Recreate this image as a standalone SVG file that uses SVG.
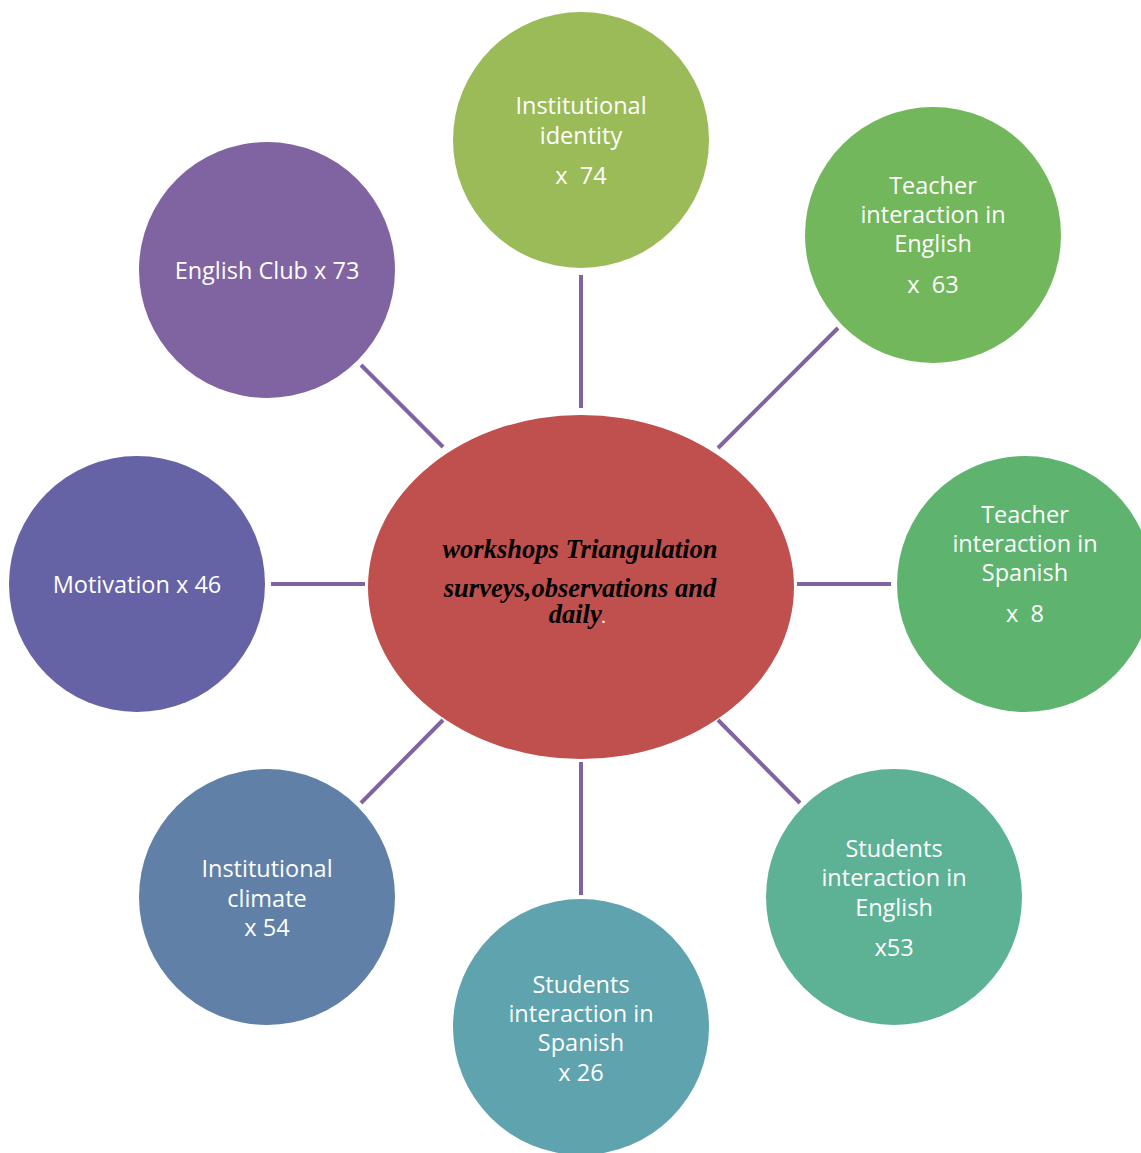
<svg xmlns="http://www.w3.org/2000/svg" width="1141" height="1153" viewBox="0 0 1141 1153">
<style>
.lbl{font-family:"Open Sans","Noto Sans",sans-serif;font-size:23.5px;fill:#ffffff;text-anchor:middle;white-space:pre}
.ctr{font-family:"Liberation Serif",serif;font-size:26.5px;font-weight:bold;font-style:italic;fill:#000000;text-anchor:middle}
.con line{stroke:#8064A2;stroke-width:4}
</style>
<rect width="1141" height="1153" fill="#ffffff"/>
<g class="con" id="connectors">
<line x1="581" y1="275" x2="581" y2="408"/>
<line x1="838" y1="328" x2="718" y2="448"/>
<line x1="797" y1="584" x2="891" y2="584"/>
<line x1="718" y1="720" x2="800" y2="803"/>
<line x1="581" y1="762" x2="581" y2="895"/>
<line x1="443" y1="720" x2="361" y2="803"/>
<line x1="271" y1="584" x2="365" y2="584"/>
<line x1="361" y1="365" x2="443" y2="447"/>
</g>
<g id="center">
<ellipse cx="581" cy="587" rx="213" ry="172" fill="#C0504D"/>
<text class="ctr" x="580" y="558">workshops Triangulation</text>
<text class="ctr" x="580" y="597">surveys,observations and</text>
<text class="ctr" x="577" y="623">daily<tspan fill="#ffffff" font-size="14" font-style="normal">.</tspan></text>
</g>
<g id="institutional-identity">
<circle cx="581" cy="140" r="128" fill="#9BBB59"/>
<text class="lbl" x="581" y="114">Institutional</text>
<text class="lbl" x="581" y="144">identity</text>
<text class="lbl" x="581" y="184">x  74</text>
</g>
<g id="teacher-english">
<circle cx="933" cy="235" r="128" fill="#72B75B"/>
<text class="lbl" x="933" y="194">Teacher</text>
<text class="lbl" x="933" y="223">interaction in</text>
<text class="lbl" x="933" y="252">English</text>
<text class="lbl" x="933" y="293">x  63</text>
</g>
<g id="teacher-spanish">
<circle cx="1025" cy="584" r="128" fill="#5EB46F"/>
<text class="lbl" x="1025" y="523">Teacher</text>
<text class="lbl" x="1025" y="552">interaction in</text>
<text class="lbl" x="1025" y="581">Spanish</text>
<text class="lbl" x="1025" y="622">x  8</text>
</g>
<g id="students-english">
<circle cx="894" cy="897" r="128" fill="#5DB194"/>
<text class="lbl" x="894" y="857">Students</text>
<text class="lbl" x="894" y="886">interaction in</text>
<text class="lbl" x="894" y="916">English</text>
<text class="lbl" x="894" y="956">x53</text>
</g>
<g id="students-spanish">
<circle cx="581" cy="1027" r="128" fill="#5EA3AD"/>
<text class="lbl" x="581" y="993">Students</text>
<text class="lbl" x="581" y="1022">interaction in</text>
<text class="lbl" x="581" y="1051">Spanish</text>
<text class="lbl" x="581" y="1081">x 26</text>
</g>
<g id="institutional-climate">
<circle cx="267" cy="897" r="128" fill="#6080A7"/>
<text class="lbl" x="267" y="877">Institutional</text>
<text class="lbl" x="267" y="907">climate</text>
<text class="lbl" x="267" y="936">x 54</text>
</g>
<g id="motivation">
<circle cx="137" cy="584" r="128" fill="#6562A6"/>
<text class="lbl" x="137" y="593">Motivation x 46</text>
</g>
<g id="english-club">
<circle cx="267" cy="270" r="128" fill="#8064A1"/>
<text class="lbl" x="267" y="279">English Club x 73</text>
</g>
</svg>
